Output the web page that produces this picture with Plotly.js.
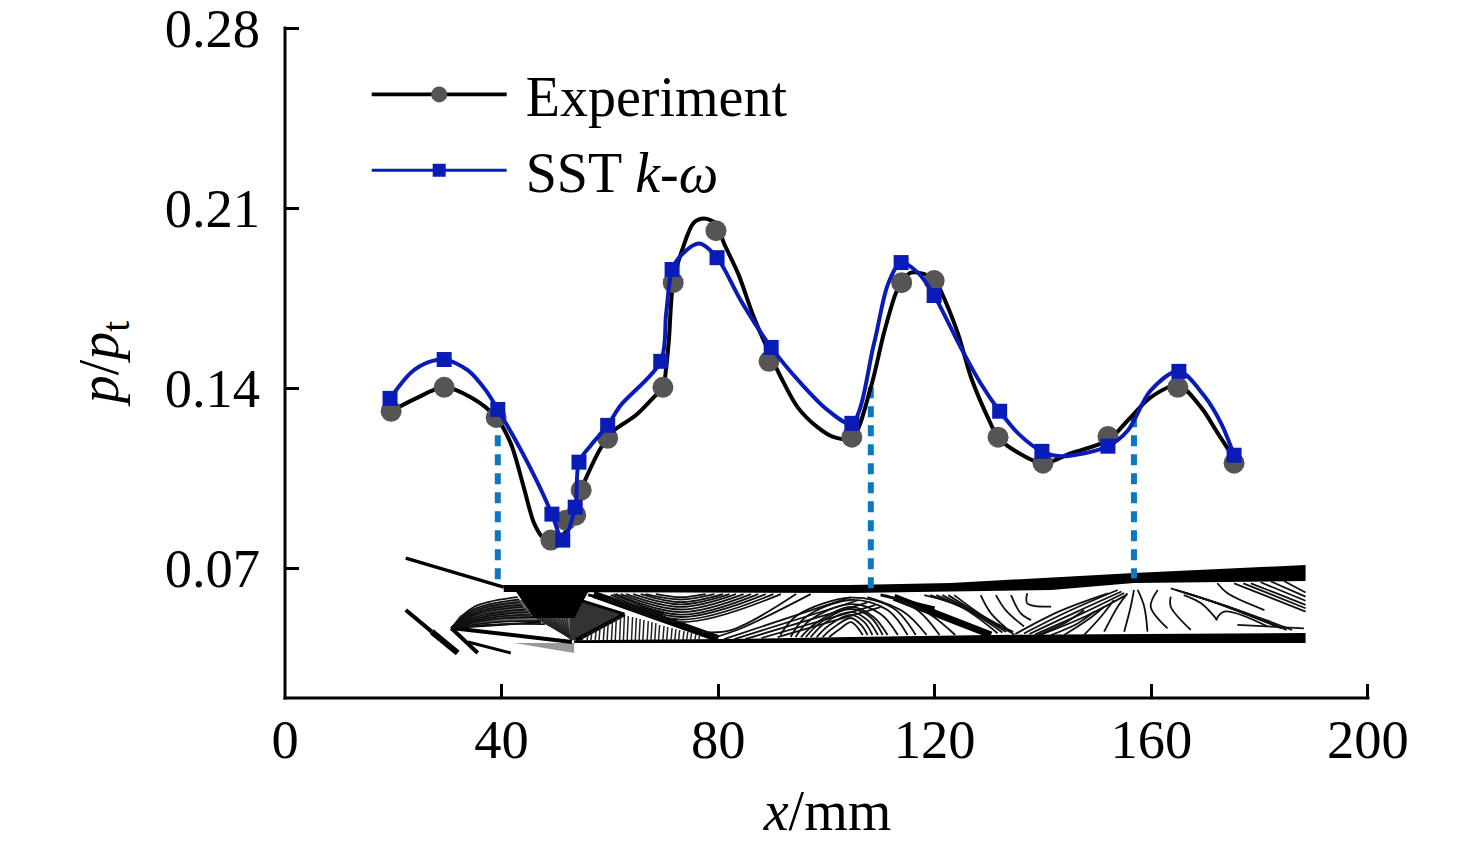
<!DOCTYPE html>
<html><head><meta charset="utf-8">
<script src="https://cdn.plot.ly/plotly-3.0.1.min.js"></script>
<style>html,body{margin:0;padding:0;background:#fff}#c{width:1476px;height:847px}</style>
</head><body><div id="c"></div>
<script>
// --- measured pressure ratio (markers) ---
const expX = [19.6,29.4,39.0,49.1,51.9,53.7,54.7,59.6,69.8,71.7,79.6,89.4,104.7,113.9,119.9,131.7,140.0,152.0,164.9,175.3];
const expY = [.1310,.1403,.1286,.0809,.0886,.0906,.1003,.1205,.1403,.1810,.2012,.1504,.1209,.1810,.1818,.1209,.1108,.1212,.1403,.1108];
// --- SST k-omega (markers) ---
const sstX = [19.4,29.4,39.3,49.3,51.3,53.6,54.3,59.6,69.4,71.5,79.8,89.8,104.7,113.8,119.9,132.0,139.8,152.0,165.1,175.3];
const sstY = [.1360,.1511,.1317,.0910,.0809,.0937,.1112,.1255,.1504,.1861,.1907,.1558,.1263,.1888,.1760,.1310,.1154,.1174,.1465,.1139];
// --- curves ---
const expCurveX = [19.6,24.2,29.4,34.3,39.0,41.7,44.1,46.0,47.6,49.3,51.3,53.6,54.7,56.0,58.4,59.6,60.8,64.8,68.1,69.8,70.4,70.9,71.7,73.5,75.5,77.4,79.6,81.1,83.7,86.6,89.4,91.6,94.7,98.4,101.4,104.7,108.2,110.6,112.8,113.9,115.6,119.9,121.1,124.3,126.7,129.8,131.7,134.1,140.0,145.2,152.0,155.7,159.9,164.9,169.2,172.3,175.3];
const expCurveY = [.1310,.1360,.1403,.1364,.1286,.1185,.1014,.0875,.0820,.0809,.0828,.0906,.1003,.1069,.1170,.1205,.1236,.1294,.1364,.1403,.1480,.1585,.1810,.1946,.2043,.2059,.2039,.1962,.1845,.1675,.1539,.1442,.1325,.1247,.1209,.1205,.1403,.1612,.1768,.1810,.1849,.1826,.1779,.1612,.1442,.1286,.1209,.1166,.1108,.1147,.1197,.1275,.1364,.1411,.1325,.1224,.1127];
const sstCurveX = [19.4,23.3,26.4,29.4,33.8,37.1,39.3,43.6,46.7,49.3,51.3,53.6,54.3,56.5,59.6,62.0,69.4,70.4,71.5,73.1,76.5,79.8,84.2,89.8,95.3,100.3,104.7,108.8,111.4,113.8,116.9,119.9,124.8,128.5,132.0,135.4,139.8,143.3,152.0,155.7,159.9,165.1,169.7,172.9,175.3];
const sstCurveY = [.1360,.1461,.1500,.1511,.1469,.1391,.1317,.1158,.1030,.0910,.0809,.0937,.1112,.1178,.1255,.1333,.1504,.1690,.1861,.1915,.1962,.1907,.1740,.1558,.1418,.1313,.1263,.1574,.1806,.1888,.1849,.1760,.1558,.1418,.1310,.1224,.1154,.1135,.1174,.1236,.1391,.1465,.1372,.1263,.1139];
// --- dotted drop lines ---
const dropX = [39.3,108.2,156.8];
const dropTop = [.1290,.1403,.1290];
const dropBottom = [.0634,.0620,.0660];
// --- flow-field schematic: filled regions ---
const topWallX = [40.4,104.5,123.0,156.8,188.5,188.5,156.8,141.5,104.5,40.4];
const topWallY = [.0634,.0634,.0642,.0681,.0712,.0650,.0642,.0615,.0603,.0607];
const botWallX = [53.4,81.1,104.5,130.4,188.5,188.5,53.4];
const botWallY = [.0420,.0424,.0432,.0440,.0448,.0409,.0409];
const wedgeX = [42.3,53.4,53.4];
const wedgeY = [.0409,.0409,.0370];
const upperBundleX = [30.7,32.2,34.3,38.0,42.3,44.5,47.3,40.4,34.9];
const upperBundleY = [.0467,.0514,.0541,.0560,.0572,.0579,.0490,.0490,.0479];
const blackFanX = [42.7,56.0,54.5,53.5,46.0];
const blackFanY = [.0607,.0607,.0550,.0506,.0506];
const greyFanX = [46.0,53.0,52.6];
const greyFanY = [.0506,.0506,.0428];
const darkBandX = [52.6,62.7,53.8,52.6];
const darkBandY = [.0587,.0521,.0420,.0420];
// --- thick shock lines ---
const shockWidths = [3.5,4,6,4,3,4,2,4,3,7,3,7,3];
const shockXs = [[22.3,40.4],[22.3,27.1],[27.1,31.9],[30.7,35.6],[33.8,41.7],[30.7,53.0],[30.7,47.3],[53.8,62.7],[52.7,62.7],[57.0,80.0],[56.0,70.0],[112.5,130.4],[110.0,120.0]];
const shockYs = [[.0739,.0626],[.0537,.0453],[.0453,.0370],[.0467,.0370],[.0413,.0370],[.0467,.0413],[.0467,.0490],[.0420,.0521],[.0587,.0521],[.0598,.0426],[.0596,.0525],[.0587,.0440],[.0596,.0545]];
// --- dense hatch behind the first reflected shock ---
const hatchX = [55.1,56.0,56.7,57.5,58.2,59.0,59.7,60.5,61.2,62.0,62.7,63.4,64.2,64.9,65.6,66.3,67.1,67.8,68.5,69.2,70.0,70.7,71.5,72.2,72.9,73.7,74.4,75.1,75.9,76.6];
const hatchTop = [.0438,.0448,.0455,.0463,.0471,.0479,.0490,.0498,.0506,.0514,.0521,.0514,.0510,.0506,.0502,.0498,.0494,.0490,.0486,.0479,.0475,.0471,.0467,.0463,.0459,.0455,.0452,.0448,.0444,.0440];
// --- contour lines ---
const contourXs = [
 [30.7,34.9,43.0],[30.7,35.2,43.3],[30.7,35.5,43.5],[30.7,35.8,43.8],[30.7,36.0,44.0],[30.7,36.5,44.5],[30.7,37.0,45.0],[30.7,37.5,45.5],[30.7,38.0,46.0],[30.7,39.0,47.0],[30.7,40.0,48.0],
 [68.5,73.1,77.7],[66.6,73.1,79.3],[65.7,73.1,80.9],[64.3,73.1,82.1],[63.0,73.1,83.3],[62.0,73.1,84.7],[61.1,73.1,86.1],[60.7,73.1,87.4],[60.2,73.1,88.8],[59.8,73.1,90.2],[59.3,73.1,91.6],[76.8,82.4,94.4],[79.6,84.4,97.1],
 [81.1,104.5],[83.0,106.0],[85.0,107.5],[88.0,109.0],[91.0,110.0],
 [95.3,98.1,104.5,108.7,111.3],[96.2,99.0,104.5,108.2,110.4],[97.1,99.9,104.5,107.6,109.5],[98.2,100.5,104.5,107.0,108.5],[99.3,101.2,104.5,106.4,107.6],[100.5,102.3,104.5,105.8,106.7],[94.3,97.0,104.5,110.0,113.2],[93.4,96.2,104.5,111.3,115.0],[91.5,94.5,104.5,112.3,116.5],[107.6,114.3,118.5],[110.9,116.8,120.9],[113.7,119.3,123.8],
 [118.1,124.8,131.6],[119.2,125.8,132.5],[120.3,126.8,133.2],[121.4,127.8,133.9],[122.5,128.6,134.2],[123.6,129.4,134.5],
 [128.5,130.4,134.7],[131.3,133.1,136.5],[134.1,135.9,137.8],[137.1,137.1,141.5],
 [136.5,145.0,153.8],[137.5,146.0,154.5],[138.5,147.0,155.0],[139.5,148.0,155.5],[134.9,143.0,152.0],
 [139.0,143.9,147.6],[141.5,146.4,149.5],[143.9,148.2,151.3],[147.6,150.7,153.1],[151.3,153.8,155.6],[155.0,156.2,156.8],[159.3,158.7,157.5],[163.0,159.9,161.2],[167.3,163.6,163.6],[172.2,169.2,166.0],
 [163.6,172.2,183.3],[164.5,173.0,184.0],[165.5,174.0,185.0],[166.5,175.0,186.0],
 [175.3,188.5],[177.0,188.5],[178.4,188.5],[180.2,188.5],[182.1,188.5],[184.5,188.5],[172.2,174.1,180.9],[171.9,173.5,181.5],[175.9,188.2]
];
const contourYs = [
 [.0467,.0549,.0587],[.0467,.0543,.0578],[.0467,.0537,.0568],[.0467,.0531,.0558],[.0467,.0525,.0549],[.0467,.0518,.0539],[.0467,.0512,.0529],[.0467,.0506,.0519],[.0467,.0500,.0510],[.0467,.0490,.0495],[.0467,.0482,.0482],
 [.0599,.0587,.0599],[.0599,.0578,.0599],[.0599,.0568,.0599],[.0599,.0559,.0599],[.0599,.0549,.0599],[.0599,.0539,.0599],[.0599,.0529,.0599],[.0599,.0519,.0599],[.0596,.0510,.0599],[.0590,.0500,.0599],[.0584,.0490,.0599],[.0452,.0459,.0599],[.0432,.0467,.0599],
 [.0424,.0587],[.0424,.0576],[.0424,.0566],[.0428,.0556],[.0432,.0548],
 [.0432,.0487,.0549,.0510,.0440],[.0432,.0490,.0541,.0508,.0440],[.0432,.0490,.0529,.0498,.0440],[.0432,.0478,.0518,.0490,.0440],[.0432,.0467,.0506,.0479,.0440],[.0432,.0460,.0490,.0468,.0440],[.0432,.0498,.0560,.0522,.0440],[.0432,.0510,.0576,.0537,.0440],[.0440,.0515,.0585,.0545,.0440],[.0587,.0529,.0440],[.0595,.0537,.0440],[.0576,.0518,.0440],
 [.0595,.0550,.0447],[.0595,.0540,.0450],[.0595,.0532,.0452],[.0595,.0524,.0452],[.0595,.0516,.0452],[.0595,.0508,.0452],
 [.0595,.0524,.0440],[.0595,.0537,.0473],[.0595,.0524,.0498],[.0602,.0563,.0550],
 [.0446,.0535,.0615],[.0444,.0528,.0609],[.0442,.0521,.0603],[.0440,.0514,.0597],[.0444,.0532,.0602],
 [.0440,.0485,.0537],[.0440,.0485,.0531],[.0440,.0498,.0550],[.0440,.0511,.0576],[.0453,.0550,.0602],[.0453,.0550,.0615],[.0453,.0550,.0615],[.0466,.0550,.0615],[.0460,.0550,.0589],[.0498,.0563,.0595],
 [.0621,.0563,.0473],[.0615,.0557,.0466],[.0609,.0551,.0460],[.0603,.0545,.0460],
 [.0641,.0531],[.0641,.0544],[.0641,.0557],[.0645,.0573],[.0648,.0589],[.0650,.0605],[.0641,.0602,.0537],[.0498,.0531,.0473],[.0479,.0466]
];
// fan of lines converging on the wall below the first shock
const fanTopX = [46.5,47,47.5,48,48.5,49,49.5,50,50.5,51,51.5,52];
const fanTopY = [.0506,.0506,.0506,.0506,.0506,.0506,.0506,.0506,.0506,.0506,.0506,.0506];
const fanFootX = [52.6];
const fanFootY = [.0428];
// --- legend and axis text ---
const expName = "\u00A0Experiment";
const sstName = "\u00A0SST <i>k</i>-<i>ω</i>";
const xTicks = [0,40,80,120,160,200];
const yTicks = [0.07,0.14,0.21,0.28];

const INK = "#000", BLUE = "#0a1cb8", GREY = "#555555", DROP = "#0b78c4", SERIF = "Liberation Serif";
const traces = [];
const bg = (x,y,o)=>Object.assign({x,y,type:"scatter",showlegend:false,hoverinfo:"skip",cliponaxis:false},o);
const fill = (x,y,c)=>traces.push(bg(x,y,{mode:"lines",fill:"toself",fillcolor:c,line:{width:0}}));

fill(topWallX,topWallY,INK);
fill(botWallX,botWallY,INK);
fill(wedgeX,wedgeY,"#999");
fill(upperBundleX,upperBundleY,"#666");
fill(greyFanX,greyFanY,"#666");
fill(darkBandX,darkBandY,"#333");
fill(blackFanX,blackFanY,INK);
shockWidths.forEach((w,i)=>traces.push(bg(shockXs[i],shockYs[i],{mode:"lines",line:{color:INK,width:w}})));
const hx=[],hy=[];
hatchX.forEach((x,i)=>{hx.push(x,x-0.2,null);hy.push(hatchTop[i],.0420,null);});
traces.push(bg(hx,hy,{mode:"lines",line:{color:"#222",width:1.5}}));
const fx=[],fy=[];
fanTopX.forEach((x,i)=>{fx.push(x,fanFootX[0],null);fy.push(fanTopY[i],fanFootY[0],null);});
traces.push(bg(fx,fy,{mode:"lines",line:{color:"#222",width:1.2}}));
contourXs.forEach((xs,i)=>traces.push(bg(xs,contourYs[i],{mode:"lines",line:{color:"#111",width:1.8,shape:xs.length>2?"spline":"linear",smoothing:1}})));

dropX.forEach((x,i)=>traces.push(bg([x,x],[dropTop[i],dropBottom[i]],{mode:"lines",line:{color:DROP,width:6,dash:"11px,8px"}})));

traces.push(bg(expCurveX,expCurveY,{mode:"lines",line:{color:INK,width:4,shape:"spline",smoothing:.9}}));
traces.push(bg(expX,expY,{mode:"markers",marker:{symbol:"circle",size:21,color:GREY}}));
traces.push(bg(sstCurveX,sstCurveY,{mode:"lines",line:{color:BLUE,width:4,shape:"spline",smoothing:.9}}));
traces.push(bg(sstX,sstY,{mode:"markers",marker:{symbol:"square",size:15,color:BLUE}}));

// legend entries
traces.push({x:[null],y:[null],type:"scatter",mode:"lines+markers",name:expName,line:{color:INK,width:3.8},marker:{symbol:"circle",size:16,color:GREY},showlegend:true,hoverinfo:"skip"});
traces.push({x:[null],y:[null],type:"scatter",mode:"lines+markers",name:sstName,line:{color:BLUE,width:3},marker:{symbol:"square",size:13,color:BLUE},showlegend:true,hoverinfo:"skip"});

const tf = {family:SERIF,size:56,color:"#000"};
const tickf = {family:SERIF,size:54.5,color:"#000"};
const axisLine = (x0,y0,x1,y1)=>({type:"line",xref:"paper",yref:"paper",x0,y0,x1,y1,line:{color:"#000",width:3},layer:"above"});
const layout = {
  width:1476,height:847,
  margin:{l:284.5,r:106.34,t:25.5,b:148.5,pad:0,autoexpand:false},
  paper_bgcolor:"#fff",plot_bgcolor:"#fff",
  font:tf,
  showlegend:true,
  shapes:[axisLine(0,-0.0022,0,0.9993),axisLine(-0.0014,0,0.9995,0)],
  legend:{x:0.0753,y:0.962,xanchor:"left",yanchor:"top",bgcolor:"rgba(0,0,0,0)",borderwidth:0,font:tf,itemwidth:135,itemsizing:"trace",tracegroupgap:0,traceorder:"normal"},
  xaxis:{range:[0,200.4],tickmode:"array",tickvals:xTicks,ticktext:xTicks.map(String),ticks:"inside",ticklen:14,tickwidth:3,tickcolor:"#000",
    showline:false,showgrid:false,zeroline:false,tickfont:tickf,ticklabelstandoff:4,automargin:false,
    title:{text:"<i>x</i>/mm",font:tf,standoff:22}},
  yaxis:{range:[0.0195,0.28078],tickmode:"array",tickvals:yTicks,ticktext:yTicks.map(v=>v.toFixed(2)),ticks:"inside",ticklen:14,tickwidth:3,tickcolor:"#000",
    showline:false,showgrid:false,zeroline:false,tickfont:tickf,ticklabelstandoff:24,ticklabeloverflow:"allow",automargin:false,
    title:{text:"<i>p</i>/<i>p</i><sub>t</sub>",font:tf,standoff:28}}
};
Plotly.newPlot("c",traces,layout,{staticPlot:true,displayModeBar:false});
</script></body></html>
